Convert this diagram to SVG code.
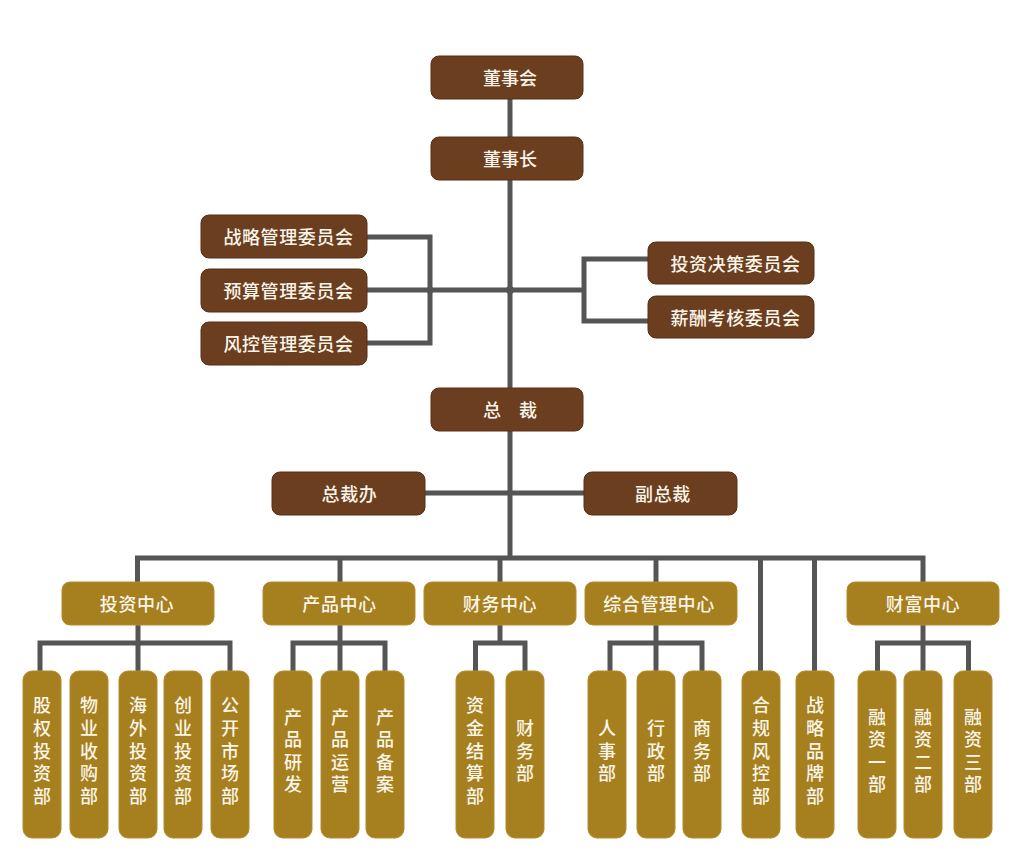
<svg xmlns="http://www.w3.org/2000/svg" width="1018" height="850" viewBox="0 0 1018 850">
<style>
.ln{fill:none;stroke:#555555;stroke-width:5;stroke-linejoin:miter;stroke-linecap:butt}
.dot{fill:#555555}
.br{fill:#6b3e20;stroke:#5a2f14;stroke-width:1}
.gd{fill:#a67f1f;stroke:#b38c2c;stroke-width:1}
.t{font-family:"Noto Sans CJK SC","Noto Sans",sans-serif;font-size:18px;fill:#fbf5e9;text-anchor:middle;dominant-baseline:central;font-weight:500}
.tc{letter-spacing:0.6px}
.v{font-family:"Noto Sans CJK SC","Noto Sans",sans-serif;font-size:18px;fill:#fbf5e9;text-anchor:middle;font-weight:500;writing-mode:vertical-rl;letter-spacing:4.6px}
</style>
<rect width="1018" height="850" fill="#ffffff"/>
<g id="connectors">
<path class="ln" d="M510,99 V137"/>
<path class="ln" d="M510,180 V388"/>
<path class="ln" d="M510,431 V558"/>
<path class="ln" d="M367,237 H430 V343 H367"/>
<path class="ln" d="M367,290 H584"/>
<path class="ln" d="M648,259 H584 V321 H648"/>
<path class="ln" d="M425,493 H584"/>
<path class="ln" d="M137.5,582 V558 H923 V582"/>
<path class="ln" d="M340,558 V582"/>
<path class="ln" d="M500,558 V582"/>
<path class="ln" d="M656,558 V582"/>
<path class="ln" d="M760.5,558 V671"/>
<path class="ln" d="M814.5,558 V671"/>
<path class="ln" d="M138,625 V671"/>
<path class="ln" d="M40,671 V643 H230 V671"/>
<path class="ln" d="M340,625 V671"/>
<path class="ln" d="M293,671 V643 H385 V671"/>
<path class="ln" d="M500,625 V643"/>
<path class="ln" d="M475.5,671 V643 H525 V671"/>
<path class="ln" d="M656,625 V671"/>
<path class="ln" d="M610,671 V643 H702 V671"/>
<path class="ln" d="M923,625 V671"/>
<path class="ln" d="M877.5,671 V643 H968.5 V671"/>
<circle class="dot" cx="510" cy="290" r="4"/>
<circle class="dot" cx="430" cy="290" r="3.5"/>
</g>
<g id="n-board"><rect class="br" x="431" y="56" width="152" height="43" rx="8"/><text class="t" x="510" y="77">董事会</text></g>
<g id="n-chairman"><rect class="br" x="431" y="137" width="152" height="43" rx="8"/><text class="t" x="510" y="158">董事长</text></g>
<g id="n-strategy-cmte"><rect class="br" x="201" y="215" width="166" height="43" rx="8"/><text class="t tc" x="288.5" y="236">战略管理委员会</text></g>
<g id="n-budget-cmte"><rect class="br" x="201" y="269" width="166" height="43" rx="8"/><text class="t tc" x="288.5" y="290">预算管理委员会</text></g>
<g id="n-risk-cmte"><rect class="br" x="201" y="322" width="166" height="43" rx="8"/><text class="t tc" x="288.5" y="343">风控管理委员会</text></g>
<g id="n-invest-cmte"><rect class="br" x="648" y="242" width="166" height="42" rx="8"/><text class="t tc" x="735.5" y="262.5">投资决策委员会</text></g>
<g id="n-pay-cmte"><rect class="br" x="648" y="296" width="166" height="42" rx="8"/><text class="t tc" x="735.5" y="316.5">薪酬考核委员会</text></g>
<g id="n-president"><rect class="br" x="431" y="388" width="152" height="43" rx="8"/><text class="t" x="510" y="409">总　裁</text></g>
<g id="n-pres-office"><rect class="br" x="272" y="472" width="153" height="43" rx="8"/><text class="t tc" x="349.5" y="493">总裁办</text></g>
<g id="n-vp"><rect class="br" x="584" y="472" width="153" height="43" rx="8"/><text class="t tc" x="663" y="493">副总裁</text></g>
<g id="n-invest-center"><rect class="gd" x="62" y="582" width="152" height="43" rx="8"/><text class="t tc" x="137" y="603">投资中心</text></g>
<g id="n-product-center"><rect class="gd" x="263" y="582" width="152" height="43" rx="8"/><text class="t tc" x="339.5" y="603">产品中心</text></g>
<g id="n-finance-center"><rect class="gd" x="424" y="582" width="152" height="43" rx="8"/><text class="t tc" x="500" y="603">财务中心</text></g>
<g id="n-admin-center"><rect class="gd" x="585" y="582" width="152" height="43" rx="8"/><text class="t tc" x="659" y="603">综合管理中心</text></g>
<g id="n-wealth-center"><rect class="gd" x="847" y="582" width="152" height="43" rx="8"/><text class="t tc" x="923" y="603">财富中心</text></g>
<g id="n-equity"><rect class="gd" x="23" y="671" width="38" height="167" rx="9"/><text class="v" x="42" y="753">股权投资部</text></g>
<g id="n-property"><rect class="gd" x="70" y="671" width="38" height="167" rx="9"/><text class="v" x="89" y="753">物业收购部</text></g>
<g id="n-overseas"><rect class="gd" x="119" y="671" width="38" height="167" rx="9"/><text class="v" x="138" y="753">海外投资部</text></g>
<g id="n-venture"><rect class="gd" x="164" y="671" width="38" height="167" rx="9"/><text class="v" x="183" y="753">创业投资部</text></g>
<g id="n-public"><rect class="gd" x="211" y="671" width="38" height="167" rx="9"/><text class="v" x="230" y="753">公开市场部</text></g>
<g id="n-prod-rd"><rect class="gd" x="274" y="671" width="38" height="167" rx="9"/><text class="v" x="293" y="753">产品研发</text></g>
<g id="n-prod-ops"><rect class="gd" x="321" y="671" width="38" height="167" rx="9"/><text class="v" x="340" y="753">产品运营</text></g>
<g id="n-prod-filing"><rect class="gd" x="366" y="671" width="38" height="167" rx="9"/><text class="v" x="385" y="753">产品备案</text></g>
<g id="n-settlement"><rect class="gd" x="456" y="671" width="38" height="167" rx="9"/><text class="v" x="475" y="753">资金结算部</text></g>
<g id="n-finance"><rect class="gd" x="506" y="671" width="38" height="167" rx="9"/><text class="v" x="525" y="753">财务部</text></g>
<g id="n-hr"><rect class="gd" x="588" y="671" width="38" height="167" rx="9"/><text class="v" x="607" y="753">人事部</text></g>
<g id="n-admin"><rect class="gd" x="637" y="671" width="38" height="167" rx="9"/><text class="v" x="656" y="753">行政部</text></g>
<g id="n-business"><rect class="gd" x="683" y="671" width="38" height="167" rx="9"/><text class="v" x="702" y="753">商务部</text></g>
<g id="n-compliance"><rect class="gd" x="742" y="671" width="38" height="167" rx="9"/><text class="v" x="761" y="753">合规风控部</text></g>
<g id="n-brand"><rect class="gd" x="796" y="671" width="38" height="167" rx="9"/><text class="v" x="815" y="753">战略品牌部</text></g>
<g id="n-fin1"><rect class="gd" x="858" y="671" width="38" height="167" rx="9"/><text class="v" x="877" y="753">融资一部</text></g>
<g id="n-fin2"><rect class="gd" x="904" y="671" width="38" height="167" rx="9"/><text class="v" x="923" y="753">融资二部</text></g>
<g id="n-fin3"><rect class="gd" x="954" y="671" width="38" height="167" rx="9"/><text class="v" x="973" y="753">融资三部</text></g>
</svg>
